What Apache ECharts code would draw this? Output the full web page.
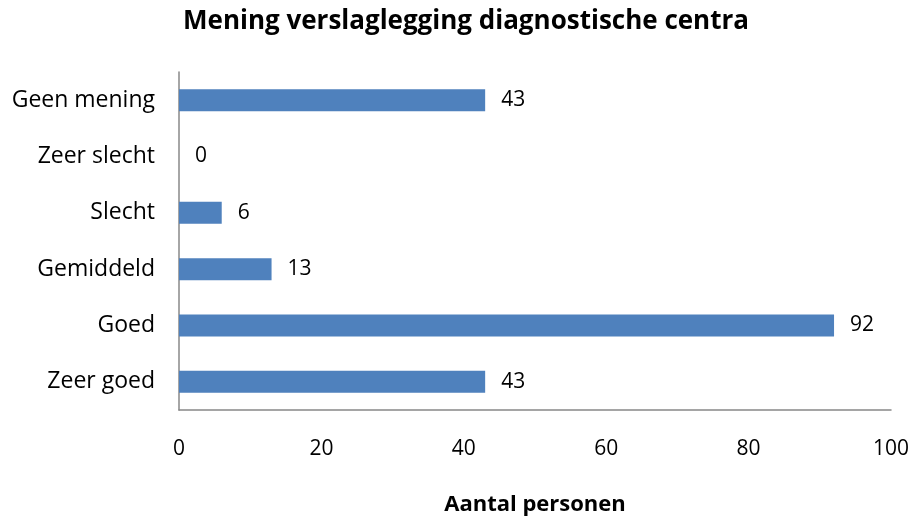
<!DOCTYPE html>
<html>
<head>
<meta charset="utf-8">
<script src="https://cdn.jsdelivr.net/npm/echarts@6/dist/echarts.min.js"></script>
<style>
    html, body { margin: 0; padding: 0; background: #fff; }
    #chart { width: 915px; height: 521px; }
</style>
</head>
<body>
<div id="chart"></div>
<script>
    // categories bottom to top, as drawn
    var categories = ['Zeer goed', 'Goed', 'Gemiddeld', 'Slecht', 'Zeer slecht', 'Geen mening'];
    var counts = [43, 92, 13, 6, 0, 43];
    var xTicks = [0, 20, 40, 60, 80, 100];

    var font = '"Open Sans", "Noto Sans", sans-serif';
    var myChart = echarts.init(document.getElementById('chart'));
    myChart.setOption({
        animation: false,
        title: {
            text: 'Mening verslaglegging diagnostische centra',
            left: 461,
            textAlign: 'center',
            top: 4,
            textStyle: { fontFamily: font, fontSize: 26, fontWeight: 'bold', color: '#000' }
        },
        grid: { left: 179, right: 24, top: 72, bottom: 109, containLabel: false },
        xAxis: {
            type: 'value',
            min: xTicks[0],
            max: xTicks[xTicks.length - 1],
            interval: 20,
            name: 'Aantal personen',
            nameLocation: 'middle',
            nameGap: 84,
            nameTextStyle: { fontFamily: font, fontSize: 22, fontWeight: 'bold', color: '#000' },
            axisLine: { show: true, lineStyle: { color: '#888', width: 1.5 } },
            axisTick: { show: false },
            splitLine: { show: false },
            axisLabel: { margin: 29, fontFamily: font, fontSize: 21, color: '#000' }
        },
        yAxis: {
            type: 'category',
            data: categories,
            axisLine: { show: true, lineStyle: { color: '#888', width: 1.5 } },
            axisTick: { show: false },
            axisLabel: { margin: 24, fontFamily: font, fontSize: 23, color: '#000' }
        },
        series: [{
            type: 'bar',
            data: counts,
            barWidth: 22,
            itemStyle: { color: '#4F81BD' },
            label: {
                show: true,
                position: 'right',
                distance: 16,
                fontFamily: font,
                fontSize: 21,
                color: '#000'
            }
        }]
    });
</script>
</body>
</html>
